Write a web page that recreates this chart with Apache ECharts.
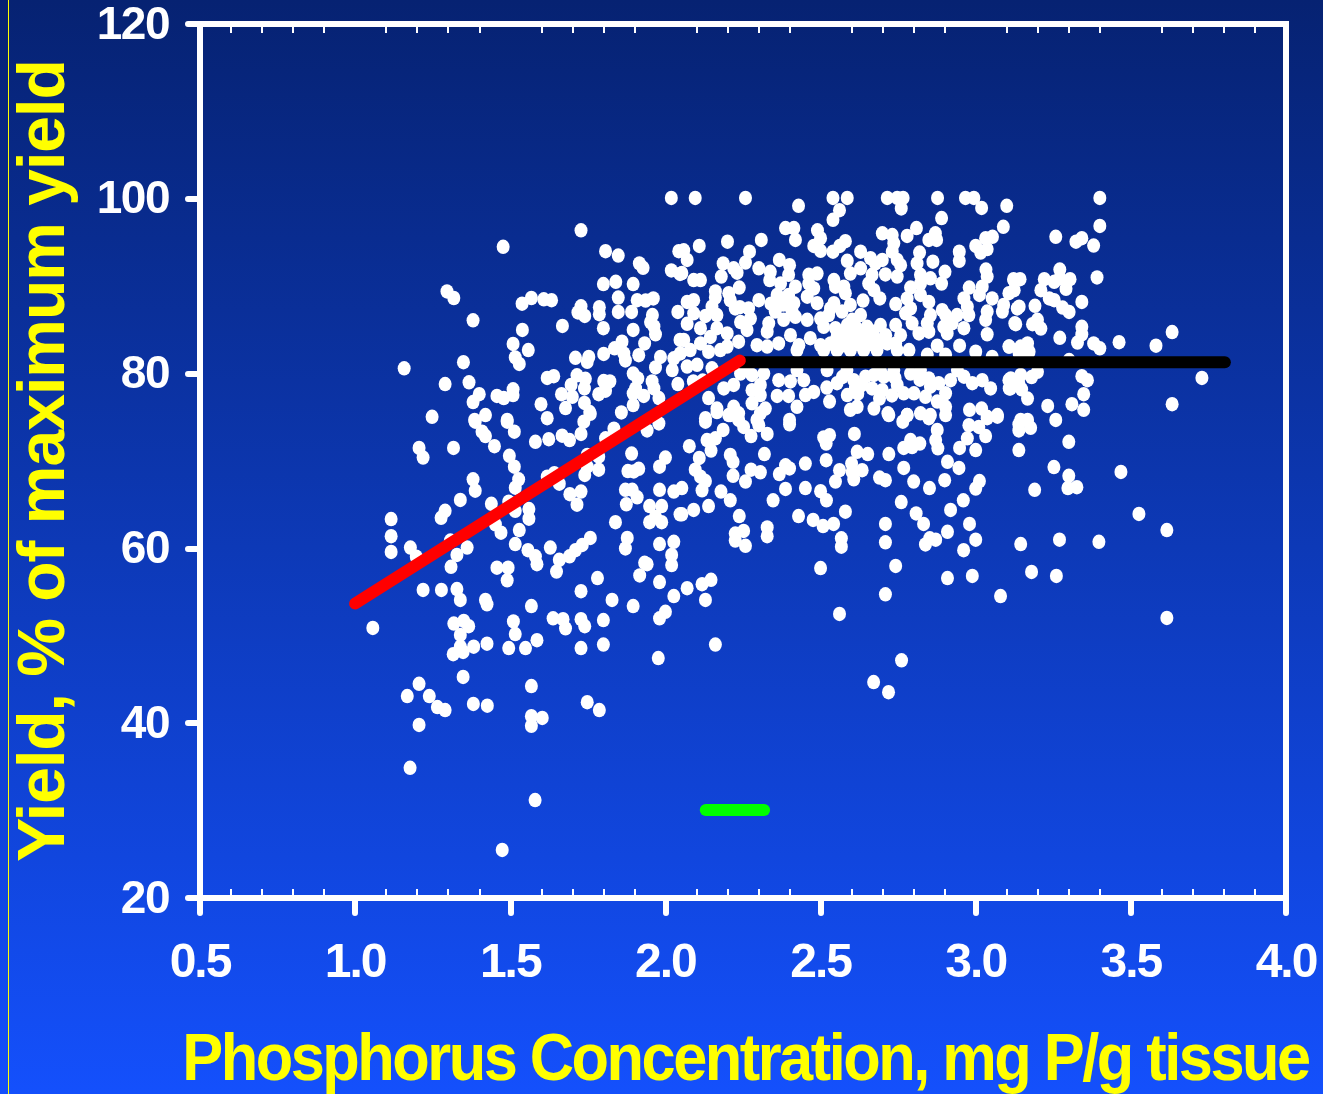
<!DOCTYPE html>
<html>
<head>
<meta charset="utf-8">
<style>html,body{margin:0;padding:0;background:#0a2f90}#c{width:1323px;height:1094px}</style>
<script src="https://cdn.jsdelivr.net/npm/echarts@6/dist/echarts.min.js"></script>
</head>
<body>
<div id="c"></div>
<script>
const xTitle = 'Phosphorus Concentration, mg P/g tissue';
const yTitle = 'Yield, % of maximum yield';
const redLine = [[1.0, 53.7], [2.24, 81.5]];
const blackLine = [[2.24, 81.3], [3.803, 81.3]];
const greenLine = [[2.13, 30.07], [2.318, 30.07]];
const leftPoints = [
[2.019,100.1],[1.728,96.4],[1.477,94.5],[1.807,94],[1.848,93.5],[1.916,92.6],[1.928,92.1],[2.019,91.8],[2.043,94],[2.047,91.4],
[1.296,89.4],[1.318,88.65],[1.8,90.25],[1.84,90.5],[1.896,90.25],[1.848,88.7],[1.909,88.4],[1.936,88.35],[1.961,88.6],[1.568,88.65],
[1.538,88],[1.608,88.5],[1.633,88.4],[1.728,87.7],[1.718,87],[1.74,86.6],[1.787,87.6],[1.787,86.8],[1.848,87.05],[1.891,87.05],
[1.958,86.7],[1.952,85.9],[1.968,84.5],[1.963,85.4],[2.04,87.05],[1.38,86.1],[1.668,85.45],[1.539,85],[1.8,85.2],[1.896,85],
[1.509,83.4],[1.558,82.7],[1.516,81.85],[1.529,81.1],[1.933,83.45],[1.914,82.1],[1.86,83.65],[1.836,82.9],[1.866,82.3],[1.801,82.25],
[1.871,81.5],[1.753,81.9],[1.71,81.8],[1.748,81.35],[1.984,81.9],[1.968,80.7],[2.027,81.75],[2.022,80.4],[2.047,83.85],[1.158,80.6],
[1.349,81.3],[1.29,78.8],[1.367,79],[1.4,77.65],[1.38,76.75],[1.457,77.45],[1.479,77.2],[1.509,78.2],[1.509,77.55],[1.599,76.5],
[1.678,76.05],[1.619,79.5],[1.64,79.7],[1.715,79.8],[1.742,79.4],[1.696,78.7],[1.739,78.3],[1.665,77.65],[1.7,77.35],[1.739,76.65],
[1.801,79.15],[1.821,79.1],[1.807,78.05],[1.785,77.65],[1.896,80],[1.911,79.45],[1.904,78.3],[1.957,79.1],[1.963,78.3],[1.93,77.45],
[1.896,77.75],[1.896,76.4],[2.04,78.8],[1.979,77.2],[1.756,75.6],[1.858,75.55],[1.248,75.05],[1.42,75.25],[1.385,74.7],[1.49,74.7],
[1.619,74.9],[1.387,74.5],[1.409,73.35],[1.42,72.85],[1.449,71.7],[1.49,74.5],[1.513,73.35],[1.581,72.2],[1.624,72.5],[1.667,72.9],
[1.691,72.4],[1.728,73.1],[1.737,74.5],[1.758,75.4],[1.834,73.7],[1.979,74.3],[1.941,73.5],[1.807,72.6],[1.206,71.5],[1.219,70.4],
[1.317,71.5],[1.497,70.6],[1.513,69.35],[1.527,67.9],[1.516,66.95],[1.891,70.85],[2,70.4],[1.981,69.35],[1.879,68.85],[1.914,69.1],
[1.898,68.8],[1.748,70.7],[1.785,70.5],[1.785,69],[1.748,69.35],[1.74,68.4],[1.38,67.9],[1.387,66.6],[1.642,68.6],[1.619,68.2],
[1.658,67.4],[1.692,66.2],[1.728,66.5],[1.715,65],[1.871,66.7],[1.893,66.7],[1.909,65.85],[1.874,65.05],[1.981,66.7],[2.027,66.5],
[1.949,64.85],[1.988,64.85],[1.968,63.6],[1.949,63],[1.988,63],[2.047,63.9],[1.839,63],[1.339,65.55],[1.29,64.3],[1.277,63.5],
[1.439,65.1],[1.495,65.35],[1.516,64.3],[1.56,64.5],[1.56,63.4],[1.116,63.35],[1.116,61.4],[1.116,59.6],[1.178,60.1],[1.197,59.05],
[1.307,60.9],[1.361,60.1],[1.328,59.25],[1.309,57.9],[1.452,62.75],[1.47,61.8],[1.529,62.1],[1.516,60.5],[1.557,59.8],[1.581,59.1],
[1.586,58.2],[1.629,60.1],[1.758,61.2],[1.732,60.4],[1.71,59.8],[1.691,59.1],[1.658,58.7],[1.649,57.35],[1.877,61.2],[1.871,60],
[1.981,60.5],[2.027,60.75],[2.02,59.25],[2.02,58.1],[1.933,58.35],[1.941,58.2],[1.917,56.9],[1.981,56.15],[1.781,56.6],[1.728,55.1],
[1.457,57.8],[1.493,57.8],[1.49,56.35],[1.219,55.25],[1.278,55.25],[1.328,55.35],[1.339,54.1],[1.42,54.1],[1.425,53.6],[1.568,53.4],
[1.828,54.1],[1.896,53.4],[2.027,54.55],[2,52.75],[1.981,52],[1.057,50.9],[1.51,51.65],[1.516,50.2],[1.318,51.4],[1.35,51.7],
[1.366,51.1],[1.339,50.1],[1.638,52],[1.67,51.9],[1.678,50.85],[1.728,51.9],[1.74,51.1],[1.8,51.8],[1.586,49.5],[1.425,49.1],
[1.339,48.75],[1.382,48.75],[1.495,48.6],[1.549,48.6],[1.728,48.6],[1.8,49]
];
const middlePoints = [
[2.096,100.1],[2.258,100.1],[2.429,99.2],[2.54,100.1],[2.586,100.1],[2.561,98.7],[2.54,97.6],[2.715,100.1],[2.747,100.1],[2.766,100.1],
[2.76,98.9],[2.877,100.1],[2.967,100.1],[2.994,100.1],[3.019,98.95],[3.1,99.2],[2.89,97.8],[3.089,96.8],[2.387,96.65],[2.414,96.65],
[2.419,95.3],[2.49,96.4],[2.5,95.5],[2.478,94.6],[2.5,94.05],[2.54,93.95],[2.562,94.6],[2.58,95.15],[2.699,96.05],[2.731,95.85],
[2.736,94.9],[2.731,93.95],[2.747,93],[2.758,92.4],[2.747,91.1],[2.809,96.65],[2.779,95.75],[2.87,96.05],[2.849,95.3],[2.874,95.3],
[2.819,93.85],[2.811,92.6],[2.822,91.3],[2.862,92.8],[2.901,91.65],[2.89,90.3],[2.854,90.9],[2.822,90.3],[2.79,89.85],[2.779,88.6],
[2.822,89],[2.849,88.2],[2.947,93.95],[2.947,92.9],[3,94.6],[3.016,93.85],[3.037,94.25],[3.032,95.5],[3.054,95.65],[3.033,91.9],
[3.037,91.1],[3.021,89.95],[2.979,89.85],[3.012,89],[2.962,88.6],[2.973,87.65],[2.629,93.95],[2.661,93.2],[2.699,93],[2.677,92.6],
[2.709,91.35],[2.666,91.3],[2.655,90.3],[2.672,89.55],[2.691,88.6],[2.637,88.35],[2.586,92.9],[2.629,92.05],[2.596,91.45],[2.543,90.7],
[2.548,89.95],[2.575,89.95],[2.58,89.2],[2.596,87.85],[2.742,87.95],[2.2,95.1],[2.309,95.3],[2.109,94.6],[2.271,93.95],[2.258,92.7],
[2.186,92.6],[2.367,93],[2.4,92.4],[2.397,91.3],[2.301,92.05],[2.338,91.65],[2.336,90.7],[2.371,90.3],[2.419,89.95],[2.397,89],
[2.22,92.05],[2.231,91.55],[2.18,91.1],[2.059,94.1],[2.07,93],[2.053,91.5],[2.091,90.7],[2.113,90.7],[2.161,89.4],[2.161,88.7],
[2.238,89.85],[2.204,89.2],[2.462,91.3],[2.489,91.45],[2.462,90.3],[2.478,89.75],[2.457,88.8],[2.489,88.05],[2.301,88.4],[2.371,88.2],
[2.414,88.05],[2.07,88.2],[2.091,88.4],[2.15,87.65],[2.209,88.4],[2.225,87.45],[2.268,87.45],[2.354,87.1],[2.408,87.1],[2.543,88.05],
[2.532,87.45],[2.526,86.7],[2.569,87.1],[2.629,86.7],[2.602,86.15],[2.091,86.9],[2.129,86.6],[2.166,86.7],[2.07,85.7],[2.113,85.2],
[2.166,85.2],[2.199,84.6],[2.242,85.9],[2.274,86.3],[2.263,85],[2.333,85.75],[2.328,84.8],[2.381,86.15],[2.419,86.5],[2.457,86.15],
[2.5,86.3],[2.403,84.4],[2.059,83.85],[2.113,83.45],[2.139,82.5],[2.145,84.2],[2.199,83.1],[2.236,83.65],[2.295,83.25],[2.328,83.1],
[2.365,83.45],[2.43,83.25],[2.467,84.05],[2.5,83.25],[2.51,85.35],[2.548,85.2],[2.586,85.55],[2.613,85.35],[2.65,85.35],[2.693,85.55],
[2.742,85.55],[2.661,84.2],[2.607,84.2],[2.553,84.2],[2.532,83.45],[2.575,83.25],[2.629,83.25],[2.672,83.25],[2.715,83.45],[2.758,84.4],
[2.742,83.45],[2.785,82.7],[2.844,82.15],[2.79,87.45],[2.774,86.9],[2.795,85.75],[2.817,84.6],[2.854,86.7],[2.844,85.75],[2.849,84.8],
[2.892,87.25],[2.903,86.7],[2.897,85.35],[2.908,84.6],[2.876,83.2],[2.94,86.7],[2.924,85.75],[2.978,86.7],[2.962,85.2],[3.037,87.1],
[3.053,88.6],[3.086,87.1],[3.032,86.15],[3.107,89.2],[3.123,90.7],[3.134,87.45],[3.126,85.75],[3.037,84.5],[2.948,83.2],[3,82.5],
[3.107,83.1],[2.903,82.15],[3.053,81.9],[3.14,82.3],[2.048,82.3],[2.102,81],[2.07,80.8],[2.15,80.6],[2.188,78.3],[2.22,78.7],
[2.242,80],[2.279,79.85],[2.317,80],[2.365,79.25],[2.403,79.1],[2.446,79.25],[2.36,77.45],[2.397,77.45],[2.424,76.2],[2.451,77.55],
[2.478,77.9],[2.279,78.1],[2.306,78.7],[2.306,77.55],[2.279,76.6],[2.322,76],[2.306,75.45],[2.139,77.2],[2.166,76],[2.22,76.2],
[2.204,75.25],[2.236,75.45],[2.529,76.8],[2.553,78.9],[2.586,77.55],[2.607,79.25],[2.612,78.3],[2.645,79.65],[2.634,78.7],[2.672,79.85],
[2.666,78.3],[2.704,79.65],[2.699,78.1],[2.747,78.7],[2.768,77.75],[2.79,80],[2.801,77.75],[2.838,77.35],[2.849,79.45],[2.854,78.5],
[2.881,78.9],[2.919,79.25],[2.903,77.75],[2.876,76.8],[2.903,76.2],[2.903,75.25],[2.962,79.65],[2.989,78.9],[3.021,79.25],[3.048,78.3],
[3.107,79.25],[3.112,78.3],[3.139,78.9],[2.69,77.15],[2.672,76],[2.618,76.2],[2.596,75.85],[2.717,75.45],[2.779,75.25],[2.822,75.45],
[2.854,75.25],[2.98,75.85],[3.019,76],[3.07,75.25],[3.037,75.05],[2.129,74.9],[2.295,74.7],[2.4,74.7]
];
const denseCorePoints = [
[2.263,80.4],[2.424,80.4],[2.521,80.4],[2.585,80.4],[2.693,80.4],[2.736,80.4],[2.822,80.4],[2.941,80.4],
[2.08,82.7],[2.177,82.7],[2.424,82.7],[2.51,82.7],[2.553,82.7],[2.596,82.7],[2.639,82.7],[2.682,82.7],[2.747,82.7],
[2.56,84.8],[2.59,84.6],[2.63,84.6],[2.67,84.8],[2.71,84.4],[2.6,83.7],[2.65,83.8],[2.69,83.8],[2.57,83.8],
[2.52,78.4],[2.57,79.6],[2.74,79.5],[2.82,79.3],[2.62,77.7],[2.73,77.5],[2.12,79.2],[2.09,79.1],
[2.24,87.6],[2.34,88],[2.36,89],[2.38,87.9]
];
const rightPoints = [
[3.4,100.1],[3.4,96.9],[3.258,95.65],[3.323,95.1],[3.342,95.5],[3.38,94.65],[3.271,91.9],[3.391,91],[3.221,90.8],[3.253,90.5],
[3.271,90.9],[3.304,90.8],[3.291,89.7],[3.122,90.8],[3.143,90.8],[3.21,89.55],[3.124,89.55],[3.237,88.6],[3.253,88.4],[3.342,88.2],
[3.28,87.55],[3.301,87.05],[3.191,87.75],[3.09,87.85],[3.14,87.65],[3.129,85.65],[3.199,86.15],[3.183,85.65],[3.21,85.15],[3.342,85.35],
[3.342,84.5],[3.271,84.1],[3.328,83.55],[3.38,83.45],[3.4,82.9],[3.462,83.6],[3.581,83.2],[3.633,84.75],[3.167,83.45],[3.145,83.1],
[3.108,83.1],[3.172,82.5],[3.301,81.55],[3.729,79.5],[3.342,79.7],[3.36,79.25],[3.199,80.2],[3.18,79.6],[3.145,79.85],[3.113,79.45],
[3.108,78.3],[3.148,78.2],[3.167,77.15],[3.348,77.65],[3.348,75.85],[3.31,76.5],[3.232,76.3],[3.633,76.5],[3.258,74.7],[3.145,74.7],
[3.167,74.7],[3.19,66.7],[3.252,69.3],[3.3,68.3],[3.297,66.9],[3.326,67],[3.468,68.75],[3.526,63.95],[3.616,62.1],[3.397,60.75],
[3.145,60.5],[3.27,61],[3.18,57.3],[3.26,56.85],[3.616,52.05],[3.139,73.5],[3.177,73.8],[3.139,71.25],[3.3,72.2]
];
const lowerMiddlePoints = [
[2.129,74.5],[2.166,75.6],[2.209,75.25],[2.236,74.7],[2.252,73.9],[2.301,74.1],[2.276,72.85],[2.328,73.1],[2.4,74.2],[2.186,73.55],
[2.161,72.6],[2.134,72.4],[2.147,71.2],[2.077,71.7],[2.109,70.35],[2.209,70.7],[2.218,69.9],[2.319,70.8],[2.451,69.7],[2.387,69.5],
[2.4,69.15],[2.367,68.5],[2.276,69],[2.306,68.7],[2.218,68.3],[2.258,67.65],[2.096,69],[2.113,68.2],[2.129,67.7],[2.118,66.65],
[2.053,66.9],[2.179,66.5],[2.209,65.5],[2.387,66.8],[2.451,66.9],[2.347,65.5],[2.5,66.55],[2.519,65.5],[2.548,67.65],[2.561,68.95],
[2.518,70.1],[2.529,72.95],[2.51,72.7],[2.518,72],[2.609,73.1],[2.618,71.05],[2.652,70.8],[2.6,69.7],[2.602,68.75],[2.634,68.95],
[2.607,67.9],[2.72,70.8],[2.768,71.5],[2.79,72.4],[2.795,71.6],[2.82,72],[2.768,69.2],[2.69,68.1],[2.709,67.8],[2.8,67.65],
[2.851,66.9],[2.9,67.8],[2.909,69.9],[2.946,69.2],[2.948,71.5],[3,71.25],[2.973,72.6],[2.978,74.1],[3.01,73.9],[3.032,72.85],
[2.876,73.55],[2.871,72.4],[2.878,71.45],[2.765,74.5],[2.779,75.25],[2.72,75.25],[2.849,74.9],[3.07,75.07],[3.037,74.9],[3.139,74.2],
[3.012,67.7],[3,66.85],[2.96,65.5],[2.919,64.4],[2.808,64],[2.832,62.8],[2.76,65.3],[2.58,64.2],[2.429,63.7],[2.476,63.25],
[2.508,62.55],[2.542,62.8],[2.238,63.7],[2.139,64.85],[2.091,64.4],[2.053,63.9],[2.328,62.4],[2.328,61.4],[2.252,62],[2.225,61.7],
[2.225,60.9],[2.258,60.3],[2.709,62.8],[2.709,60.7],[2.567,61.15],[2.567,60.2],[2.5,57.75],[2.742,58],[2.709,54.75],[2.561,52.5],
[2.161,49],[2.147,56.4],[2.118,55.9],[2.07,55.45],[2.129,54.1],[2.98,62.8],[2.909,61.9],[3,61],[2.871,61],[2.838,60.45],
[2.852,61.15],[2.961,59.8],[2.909,56.6],[2.989,56.85],[3.08,54.55]
];
const bottomPoints = [
[1.168,43.1],[1.206,44.5],[1.239,43.1],[1.265,41.85],[1.29,41.5],[1.206,39.8],[1.177,34.9],[1.348,45.3],[1.381,42.2],[1.426,42],
[1.316,47.9],[1.348,48.15],[1.568,44.25],[1.568,40.8],[1.568,39.7],[1.603,40.6],[1.58,31.2],[1.474,25.5],[1.748,42.4],[1.787,41.5],
[1.977,47.45],[2.671,44.7],[2.719,43.55],[2.761,47.2]
];
const pointGroups = [leftPoints, middlePoints, denseCorePoints, rightPoints, lowerMiddlePoints, bottomPoints];
const yieldPoints = pointGroups.flat();

// The reference's lettering is tightly tracked; apply that tracking when the canvas draws text.
const drawText = CanvasRenderingContext2D.prototype.fillText;
CanvasRenderingContext2D.prototype.fillText = function (text, x, y, w) {
  const size = parseInt((this.font.match(/(\d+)px/) || [])[1], 10);
  this.letterSpacing = text === xTitle ? '-2.7px' : text === yTitle ? '-1px'
    : size === 48 ? '-2px' : size === 46 ? '-1.5px' : '0px';
  drawText.call(this, text, x, y, w);
  this.letterSpacing = '0px';
};

const chart = echarts.init(document.getElementById('c'), null, {renderer: 'canvas'});
const FONT = '"Liberation Sans", Arial, sans-serif';
const axisLine = {show: true, onZero: false, lineStyle: {color: '#fff', width: 6, cap: 'square'}};
chart.setOption({
  animation: false,
  backgroundColor: {type: 'linear', x: 0, y: 0, x2: 0, y2: 1, colorStops: [
    {offset: 0, color: '#062272'}, {offset: 1, color: '#1450fc'}]},
  grid: {left: 200, right: 37, top: 24, bottom: 196, containLabel: false},
  xAxis: [{
    type: 'value', min: 0.5, max: 4, interval: 0.5, splitNumber: 7,
    axisLine,
    axisTick: {show: true, length: 15, lineStyle: {color: '#fff', width: 6, cap: 'round'}},
    minorTick: {show: true, splitNumber: 5, length: -9, lineStyle: {color: '#fff', width: 2}},
    splitLine: {show: false}, minorSplitLine: {show: false},
    axisLabel: {show: true, color: '#fff', fontFamily: FONT, fontWeight: 'bold', fontSize: 48, margin: 42,
      showMinLabel: true, showMaxLabel: true, hideOverlap: false, formatter: v => v.toFixed(1)}
  }, {
    type: 'value', position: 'top', min: 0.5, max: 4, interval: 0.5,
    axisLine,
    axisTick: {show: false},
    minorTick: {show: true, splitNumber: 5, length: -9, lineStyle: {color: '#fff', width: 2}},
    splitLine: {show: false}, axisLabel: {show: false}
  }],
  yAxis: [{
    type: 'value', min: 20, max: 120, interval: 20,
    axisLine,
    axisTick: {show: true, length: 12, lineStyle: {color: '#fff', width: 6, cap: 'round'}},
    splitLine: {show: false},
    axisLabel: {show: true, color: '#fff', fontFamily: FONT, fontWeight: 'bold', fontSize: 46, margin: 31,
      verticalAlign: 'top', lineHeight: 4,
      showMinLabel: true, showMaxLabel: true, hideOverlap: false}
  }, {
    type: 'value', position: 'right', min: 20, max: 120, interval: 20,
    axisLine, axisTick: {show: false}, splitLine: {show: false}, axisLabel: {show: false}
  }],
  series: [
    {type: 'scatter', name: 'Yield', data: yieldPoints, symbol: 'circle', symbolSize: [13, 14.5], itemStyle: {color: '#fff', opacity: 1}, z: 3, silent: true, large: false},
    {type: 'line', name: 'Plateau', data: blackLine, symbol: 'none', lineStyle: {color: '#000', width: 12, cap: 'round'}, z: 4, silent: true},
    {type: 'line', name: 'Response', data: redLine, symbol: 'none', lineStyle: {color: '#ff0000', width: 12, cap: 'round'}, z: 5, silent: true},
    {type: 'line', name: 'Critical range', data: greenLine, symbol: 'none', lineStyle: {color: '#00ff00', width: 12, cap: 'round'}, z: 5, silent: true}
  ],
  graphic: [
    {type: 'rect', silent: true, z: 10, shape: {x: 8, y: 0, width: 1, height: 1094}, style: {fill: '#ffff00'}},
    {type: 'text', silent: true, z: 10, x: 745.5, y: 1062, scaleX: 0.93,
      style: {text: xTitle, fill: '#ffff00', font: 'bold 66px ' + FONT, textAlign: 'center', textVerticalAlign: 'middle'}},
    {type: 'text', silent: true, z: 10, x: 46, y: 461, rotation: Math.PI / 2,
      style: {text: yTitle, fill: '#ffff00', font: 'bold 66px ' + FONT, textAlign: 'center', textVerticalAlign: 'middle'}}
  ]
});
</script>
</body>
</html>
